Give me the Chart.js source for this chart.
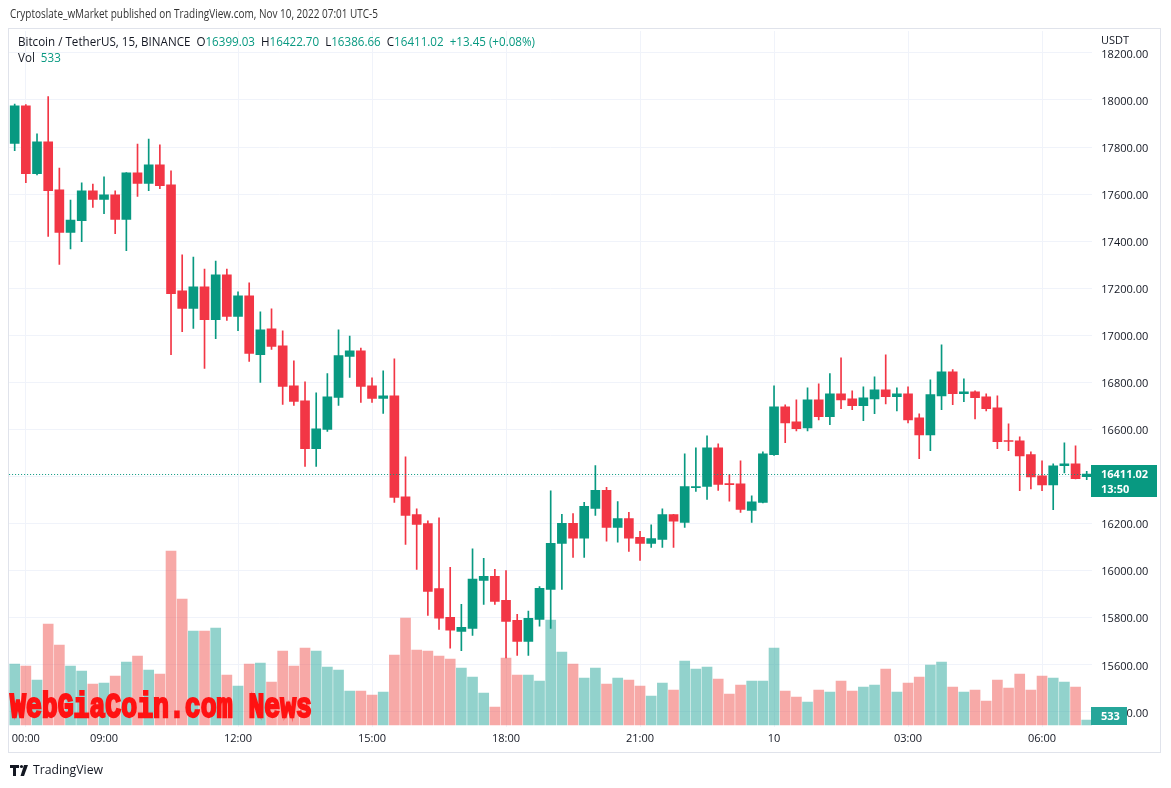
<!DOCTYPE html>
<html><head><meta charset="utf-8">
<script src="https://cdn.jsdelivr.net/npm/chart.js@4.4.0/dist/chart.umd.min.js"></script>
<style>html,body{margin:0;padding:0;background:#fff;overflow:hidden}canvas{display:block}</style>
</head><body><canvas id="c" width="1171" height="788"></canvas>
<script>
const times = ["07:00","07:15","07:30","07:45","08:00","08:15","08:30","08:45","09:00","09:15","09:30","09:45",
"10:00","10:15","10:30","10:45","11:00","11:15","11:30","11:45","12:00","12:15","12:30","12:45",
"13:00","13:15","13:30","13:45","14:00","14:15","14:30","14:45","15:00","15:15","15:30","15:45",
"16:00","16:15","16:30","16:45","17:00","17:15","17:30","17:45","18:00","18:15","18:30","18:45",
"19:00","19:15","19:30","19:45","20:00","20:15","20:30","20:45","21:00","21:15","21:30","21:45",
"22:00","22:15","22:30","22:45","23:00","23:15","23:30","23:45","00:00","00:15","00:30","00:45",
"01:00","01:15","01:30","01:45","02:00","02:15","02:30","02:45","03:00","03:15","03:30","03:45",
"04:00","04:15","04:30","04:45","05:00","05:15","05:30","05:45","06:00","06:15","06:30","06:45","07:00"];

const opens = [17815,17975,17687,17822,17618,17437,17487,17614,17577,17597,17492,17690,17645,17724,17639,17189,17114,17206,17067,17257,
17080,17168,16918,17028,16955,16786,16722,16519,16600,16736,16910,16934,16786,16732,16743,16314,16238,16200,15924,15802,
15742,15755,15959,15976,15874,15789,15700,15793,15921,16116,16201,16138,16265,16341,16184,16222,16142,16116,16133,16238,
16205,16353,16358,16522,16370,16369,16256,16290,16493,16696,16633,16607,16726,16654,16752,16730,16701,16730,16769,16739,
16752,16650,16577,16743,16845,16752,16760,16739,16692,16552,16552,16493,16403,16365,16446,16454,16399.03];
const highs = [17983,17980,17856,18014,17711,17575,17648,17643,17673,17614,17692,17813,17834,17809,17699,17342,17333,17282,17316,17282,
17185,17223,17100,17113,17019,16892,16803,16756,16837,17023,16997,16946,16820,16849,16900,16484,16263,16212,16225,16014,
15857,16093,16053,16006,16001,15815,15828,15933,16339,16240,16243,16290,16447,16354,16294,16248,16167,16195,16263,16240,
16497,16522,16573,16539,16408,16467,16318,16505,16786,16705,16726,16777,16794,16837,16904,16764,16781,16824,16917,16777,
16781,16667,16811,16960,16854,16815,16764,16752,16743,16624,16569,16505,16467,16454,16543,16531,16422.70];
const lows = [17785,17649,17682,17420,17301,17367,17398,17543,17517,17432,17360,17590,17615,17623,16918,17016,17029,16859,16986,17063,
17020,16889,16800,16940,16706,16702,16443,16443,16592,16702,16821,16715,16715,16668,16290,16112,16006,15810,15751,15671,
15660,15725,15857,15857,15630,15640,15640,15764,15755,15921,16057,16057,16235,16125,16121,16082,16044,16099,16099,16099,
16184,16337,16303,16341,16295,16248,16205,16288,16490,16544,16594,16594,16641,16620,16688,16684,16637,16667,16709,16679,
16628,16476,16510,16684,16705,16718,16645,16679,16518,16510,16340,16348,16340,16259,16416,16390,16386.66];
const closes = [17975,17687,17822,17615,17437,17490,17614,17577,17597,17492,17690,17645,17724,17636,17177,17114,17206,17067,17257,17080,
17168,16923,17023,16953,16783,16719,16519,16603,16739,16914,16934,16783,16732,16743,16311,16235,16197,15912,15798,15747,
15759,15964,15976,15870,15785,15700,15798,15925,16116,16201,16138,16273,16341,16184,16222,16138,16116,16136,16238,16210,
16357,16357,16522,16367,16366,16260,16293,16497,16696,16628,16603,16726,16654,16752,16726,16701,16735,16769,16739,16752,
16641,16577,16748,16845,16752,16760,16735,16688,16548,16549,16488,16399,16365,16446,16454,16391,16411.02];
const volumes = [6527,6313,4815,10807,8560,6313,5778,4387,4494,5243,6741,7383,5885,5457,18618,13482,10058,10058,10379,5350,
4173,6527,6634,4601,7918,6313,8239,7918,6206,5885,3638,3638,3210,3531,7490,11449,8025,7918,7383,7062,
6099,5136,3424,1926,7169,5350,5350,4708,11235,7811,6527,5029,6099,4387,5029,4815,4173,3103,4494,3745,
6848,5992,6206,4922,3317,4280,4708,4708,8239,3638,2996,2461,3745,3531,4708,3638,4066,4280,5992,3531,
4494,5136,6420,6741,4066,3531,3745,2568,4815,3959,5457,3745,5243,5029,4601,4066,533];

const xTickIndex = [1, 8, 20, 32, 44, 56, 68, 80, 92];
const xTickText = ["00:00","09:00","12:00","15:00","18:00","21:00","10","03:00","06:00"];

const UP = '#089981', DOWN = '#F23645';
const VUP = 'rgba(38,166,154,0.5)', VDOWN = 'rgba(239,83,80,0.5)';
const DARK = '#131722';
const isUp = closes.map((c,i)=> c >= opens[i]);

function fitRun(ctx, pieces, x, y, font, totalW, fixedScale) {
  ctx.font = font;
  const widths = pieces.map(p => ctx.measureText(p[0]).width);
  const tot = widths.reduce((a,b)=>a+b,0);
  const s = fixedScale || (totalW ? totalW/tot : 1);
  ctx.save(); ctx.translate(x,y); ctx.scale(s,1);
  ctx.textAlign='left'; ctx.textBaseline='middle';
  let cx = 0;
  pieces.forEach((p,i)=>{ ctx.fillStyle=p[1]; ctx.fillText(p[0],cx,0); cx+=widths[i]; });
  ctx.restore();
  return s;
}

const overlay = {
  id:'overlay',
  afterDatasetsDraw(chart) {
    const {ctx, chartArea, scales} = chart;
    const py = Math.round(scales.y.getPixelForValue(closes[closes.length-1])) + 0.5;
    ctx.save(); ctx.strokeStyle = UP; ctx.lineWidth = 1; ctx.setLineDash([1,2]);
    ctx.beginPath(); ctx.moveTo(chartArea.left, py); ctx.lineTo(1091, py); ctx.stroke(); ctx.restore();
  },
  afterDraw(chart) {
    const {ctx, scales} = chart;
    ctx.save();
    ctx.strokeStyle = '#e0e3eb'; ctx.lineWidth = 1;
    ctx.strokeRect(8.5, 28.5, 1152, 724);
    ctx.fillStyle = '#fff'; ctx.fillRect(1093, 30, 66, 19);
    fitRun(ctx, [['USDT', DARK]], 1101, 41, '11px "Open Sans"');
    const py = Math.round(scales.y.getPixelForValue(closes[closes.length-1]));
    ctx.fillStyle = UP; ctx.fillRect(1091, py-9, 66, 32);
    fitRun(ctx, [[closes[closes.length-1].toFixed(2), '#fff']], 1101, py+1, 'bold 11px "Open Sans"');
    fitRun(ctx, [['13:50', '#fff']], 1101, py+16, 'bold 11px "Open Sans"');
    ctx.fillStyle = '#26a69a'; ctx.fillRect(1091, 707, 36, 18);
    fitRun(ctx, [[String(volumes[volumes.length-1]), '#fff']], 1101, 717, 'bold 11px "Open Sans"');
    fitRun(ctx, [['Cryptoslate_wMarket published on TradingView.com, Nov 10, 2022 07:01 UTC-5', '#333']], 10, 15, '12px "Open Sans"', 368);
    const s = fitRun(ctx, [['Bitcoin / TetherUS, 15, BINANCE  ', DARK], ['O', DARK], ['16399.03  ', UP], ['H', DARK], ['16422.70  ', UP],
      ['L', DARK], ['16386.66  ', UP], ['C', DARK], ['16411.02  ', UP], ['+13.45 (+0.08%)', UP]], 18, 42.5, '12px "Open Sans"', 517);
    fitRun(ctx, [['Vol  ', DARK], ['533', UP]], 18, 58.5, '12px "Open Sans"', 0, s);
    ctx.save();
    ctx.font = 'bold 28px "Liberation Mono"';
    const wt = 'WebGiaCoin.com News';
    const ww = ctx.measureText(wt).width;
    ctx.translate(10, 717); ctx.scale(302/ww, 1.25);
    ctx.fillStyle = '#FF1212'; ctx.strokeStyle = '#FF1212'; ctx.lineWidth = 1.8;
    ctx.textBaseline = 'alphabetic'; ctx.textAlign = 'left';
    ctx.fillText(wt, 0, 0); ctx.strokeText(wt, 0, 0);
    ctx.restore();
    ctx.fillStyle = DARK;
    ctx.fillRect(10, 765, 9, 3); ctx.fillRect(13, 765, 3, 11);
    ctx.beginPath(); ctx.arc(21.5, 766.5, 1.6, 0, Math.PI*2); ctx.fill();
    ctx.beginPath(); ctx.moveTo(24, 765); ctx.lineTo(28, 765); ctx.lineTo(24, 776); ctx.lineTo(20.5, 776); ctx.closePath(); ctx.fill();
    fitRun(ctx, [['TradingView', DARK]], 33, 770.5, '12px "Open Sans"', 70);
    ctx.restore();
  }
};

new Chart(document.getElementById('c').getContext('2d'), {
  type: 'bar',
  data: {
    labels: times,
    datasets: [
      { label:'Volume', yAxisID:'yv', data: volumes, backgroundColor: isUp.map(u=>u?VUP:VDOWN),
        barThickness: 10, grouped:false, order:3, borderWidth:0 },
      { label:'Wick', yAxisID:'y', data: lows.map((l,i)=>[l, highs[i]]), backgroundColor: isUp.map(u=>u?UP:DOWN),
        barThickness: 1, grouped:false, order:2, borderWidth:0 },
      { label:'Body', yAxisID:'y', data: opens.map((o,i)=>[o, closes[i]]), backgroundColor: isUp.map(u=>u?UP:DOWN),
        barThickness: 9, grouped:false, order:1, borderWidth:0, minBarLength:1 }
    ]
  },
  options: {
    responsive:false, animation:false, devicePixelRatio:1,
    layout:{ padding:{ left:9.1, top:31, right:0, bottom:36 } },
    plugins:{ legend:{display:false}, tooltip:{enabled:false} },
    scales:{
      x:{ type:'category', offset:true,
          grid:{ offset:false, drawTicks:false, color:(c)=> (c.index===1 ? 'rgba(0,0,0,0)' : '#f0f3fa') },
          border:{display:false},
          ticks:{ autoSkip:false, maxRotation:0, padding:5, color:DARK, font:{family:'Open Sans', size:11},
            callback:(v,i)=>{ const k = xTickIndex.indexOf(i); return k>=0 ? xTickText[k] : null; } },
          afterFit:(s)=>{ s.height = 25; } },
      y:{ position:'right', min:15336, max:18293,
          grid:{ color:'#f0f3fa', drawTicks:false }, border:{display:false},
          ticks:{ stepSize:200, includeBounds:false, padding:9, labelOffset:1.5, color:DARK, font:{family:'Open Sans', size:11},
            callback:(v)=>Number(v).toFixed(2) },
          afterFit:(s)=>{ s.width = 78.7; } },
      yv:{ display:false, min:-214, max:74258 }
    }
  },
  plugins:[overlay]
});
</script>
</body></html>
